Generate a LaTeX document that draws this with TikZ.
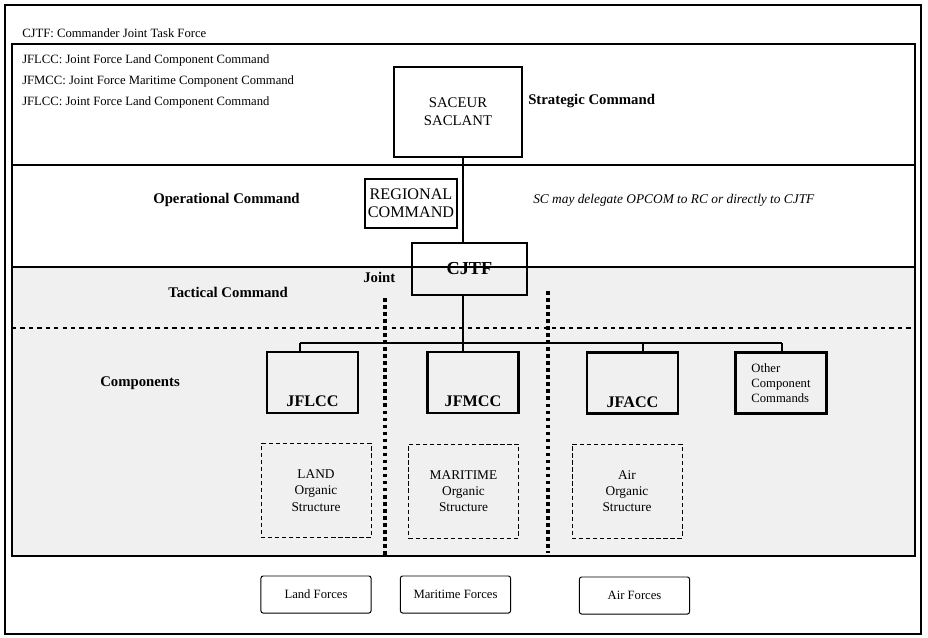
\documentclass[tikz,border=0pt]{standalone}
\usepackage{fontspec}
\setmainfont{Liberation Serif}
\usetikzlibrary{positioning,calc}
\tikzset{
  basebox/.style={rectangle,draw=black,align=center,inner sep=2pt,font=\fontsize{9}{10.5}\selectfont},
  topnode/.style={basebox,line width=1.6pt,font=\fontsize{10.5}{13}\selectfont},
  cmdnode/.style={basebox,line width=1.6pt,minimum width=2.275cm,minimum height=1.525cm},
  cmdname/.style={anchor=south,inner sep=1pt,yshift=4pt,font=\fontsize{11.5}{13}\selectfont\bfseries},
  orgnode/.style={basebox,densely dashed,line width=0.6pt,minimum width=2.75cm,minimum height=2.35cm,font=\fontsize{9.5}{11.5}\selectfont},
  forcenode/.style={basebox,rounded corners=1.5pt,line width=0.7pt,minimum width=2.75cm,minimum height=0.925cm},
  bandlabel/.style={anchor=west,inner sep=0pt,font=\fontsize{10.5}{12}\selectfont\bfseries},
  legend/.style={anchor=west,inner sep=0pt,font=\fontsize{9}{10}\selectfont},
  link/.style={line width=0.8pt},
  frameline/.style={line width=0.9pt},
  jointline/.style={line width=2.6pt,dash pattern=on 2.6pt off 2.4pt}
}

\begin{document}
\begin{tikzpicture}[x=0.025cm,y=-0.025cm]
  \useasboundingbox (0,0) rectangle (928,638);
  % bands
  \fill[black!6] (12,267) rectangle (915,556);
  \draw[frameline] (5,5) rectangle (921,634);
  \draw[frameline] (12,44) rectangle (915,556);
  \draw[frameline] (12,165) -- (915,165);
  \draw[frameline] (12,267) -- (915,267);
  \draw[link,dashed] (12,328) -- (915,328);

  % legend
  \node[legend] (lg0) at (22,33) {CJTF: Commander Joint Task Force};
  \node[legend] (lg1) at (22,60) {JFLCC: Joint Force Land Component Command};
  \node[legend] (lg2) at (22,81) {JFMCC: Joint Force Maritime Component Command};
  \node[legend] (lg3) at (22,102) {JFLCC: Joint Force Land Component Command};

  % command levels
  \node[topnode,minimum width=3.2cm,minimum height=2.25cm] (saceur) at (458,112) {SACEUR\\SACLANT};
  \node[topnode,minimum width=2.3cm,minimum height=1.225cm,inner sep=1pt,font=\fontsize{11.5}{13}\selectfont] (rc) at (411,203.5) {REGIONAL\\COMMAND};
  \node[topnode,minimum width=2.875cm,minimum height=1.3cm,font=\fontsize{13}{15}\selectfont\bfseries] (cjtf) at (469.5,269) {CJTF};

  \node[bandlabel] (strat) at (528,101) {Strategic Command};
  \node[bandlabel] (oper) at (153,200) {Operational Command};
  \node[anchor=west,inner sep=0pt,font=\fontsize{9.5}{11}\selectfont\itshape] (note) at (533,200) {SC may delegate OPCOM to RC or directly to CJTF};
  \node[bandlabel] (joint) at (363,277) {Joint};
  \node[bandlabel] (tact) at (168,292) {Tactical Command};
  \node[bandlabel] (comp) at (100,383) {Components};

  % components
  \node[cmdnode,label={[cmdname]south:JFLCC}] (jflcc) at (312.5,382.5) {};
  \node[cmdnode,label={[cmdname]south:JFMCC}] (jfmcc) at (473,382.5) {};
  \node[cmdnode,label={[cmdname]south:JFACC}] (jfacc) at (632.5,383) {};
  \node[cmdnode,align=left] (other) at (781,383) {Other\\Component\\Commands};

  \node[orgnode] (orgland) at (316,490.5) {\raisebox{-8pt}{\parbox{2cm}{\centering LAND\\Organic\\Structure}}};
  \node[orgnode] (orgmar) at (463.5,491) {MARITIME\\Organic\\Structure};
  \node[orgnode] (orgair) at (627,491) {Air\\Organic\\Structure};

  \node[forcenode] (fland) at (316,594.5) {Land Forces};
  \node[forcenode] (fmar) at (455.5,594.5) {Maritime Forces};
  \node[forcenode] (fair) at (634.5,595.5) {Air Forces};

  % joint separators
  \draw[jointline] (385,298) -- (385,558);
  \draw[jointline] (548,291) -- (548,553);

  % chain of command
  \coordinate (trunk) at (463,0);
  \coordinate (s1) at (300,343);
  \coordinate (s3) at (643,343);
  \coordinate (s4) at (782,343);
  \draw[link] (saceur.south -| trunk) -- (cjtf.north -| trunk);
  \draw[link] (cjtf.south -| trunk) -- (jfmcc.north -| trunk);
  \draw[link] (s1) -- (s4);
  \draw[link] (s1) -- (s1 |- jflcc.north);
  \draw[link] (s3) -- (s3 |- jfacc.north);
  \draw[link] (s4) -- (s4 |- other.north);
\end{tikzpicture}
\end{document}
